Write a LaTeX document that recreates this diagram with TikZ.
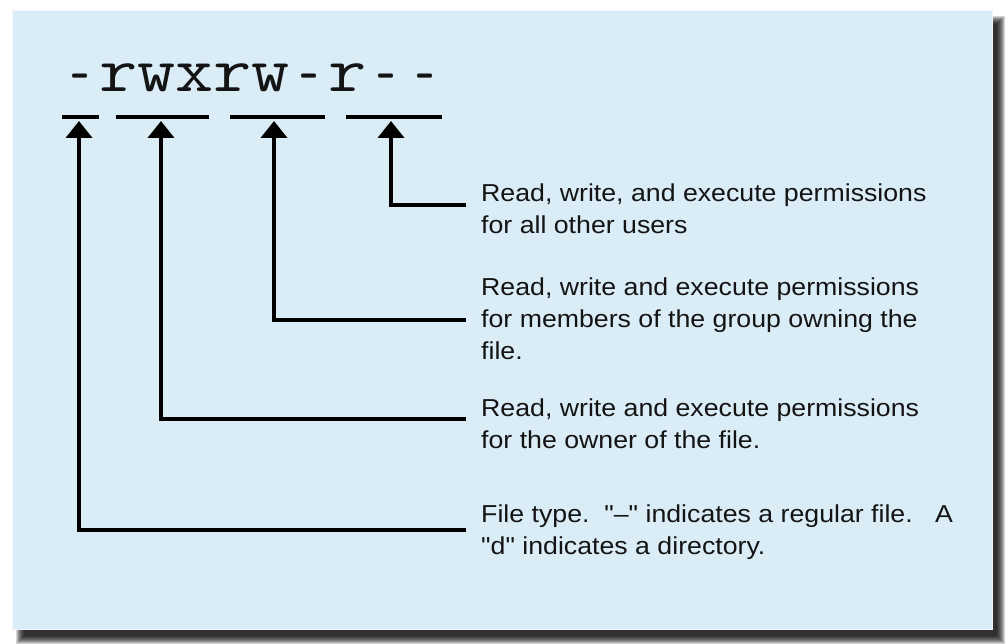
\documentclass[tikz,border=0pt]{standalone}
\usepackage{fontspec}
\setmainfont{Liberation Sans}
\newfontfamily\lblf[FakeStretch=1.09]{Liberation Sans}
\usetikzlibrary{arrows.meta}
\definecolor{panelblue}{RGB}{218,237,247}
\definecolor{ink}{RGB}{20,20,20}
\newcommand\shorthy{\makebox[0.525em]{\raisebox{-4pt}{\scalebox{0.5}[1]{-}}}}
\begin{document}
\begin{tikzpicture}[x=1pt,y=-1pt,
  lbl/.style={font=\lblf\fontsize{24.5}{32}\selectfont, anchor=base west, align=left, inner sep=0pt, text=ink},
  conn/.style={line width=4pt, draw=black, -{Triangle[length=17pt,width=26pt]}},
  bar/.style={fill=black, inner sep=0pt, minimum height=4pt}]
\useasboundingbox (0,0) rectangle (1008,644);
% shadow
\foreach \i in {-4,...,4}
  \fill[black,opacity=0.17] (20-\i,20-\i) rectangle (1001+\i,640+\i);
% panel
\fill[panelblue] (12,10) rectangle (993,630);
\draw[white!55!panelblue, line width=1pt] (12.5,10.5) rectangle (992.5,629.5);
% permission string
\node[font=\ttfamily\fontsize{74}{74}\selectfont, anchor=base west, inner sep=0pt, text=ink] (perm) at (60.5,92) {\scalebox{1}[0.86]{\shorthy rwxrw\shorthy r\shorthy\shorthy}};
% group bars
\node[bar, minimum width=37pt] (b1) at (80.5,117) {};
\node[bar, minimum width=93pt] (b2) at (162.5,117) {};
\node[bar, minimum width=95pt] (b3) at (277.5,117) {};
\node[bar, minimum width=96pt] (b4) at (394,117) {};
% descriptions (anchored at the baseline of the last line)
\node[lbl] (t4) at (481,233.5) {Read, write, and execute permissions\\for all other users};
\node[lbl] (t3) at (481,359) {Read, write and execute permissions\\for members of the group owning the\\file.};
\node[lbl] (t2) at (481,448.5) {Read, write and execute permissions\\for the owner of the file.};
\node[lbl] (t1) at (481,554.5) {File type.\ \ "–" indicates a regular file.\ \ \ A\\"d" indicates a directory.};
% connector ends
\coordinate (a1) at (79,121);
\coordinate (a2) at (161,121);
\coordinate (a3) at (274,121);
\coordinate (a4) at (391,121);
\coordinate (e1) at (466,530);
\coordinate (e2) at (466,419);
\coordinate (e3) at (466,320);
\coordinate (e4) at (466,205);
\draw[conn] (e1) -| (a1);
\draw[conn] (e2) -| (a2);
\draw[conn] (e3) -| (a3);
\draw[conn] (e4) -| (a4);
\end{tikzpicture}
\end{document}
